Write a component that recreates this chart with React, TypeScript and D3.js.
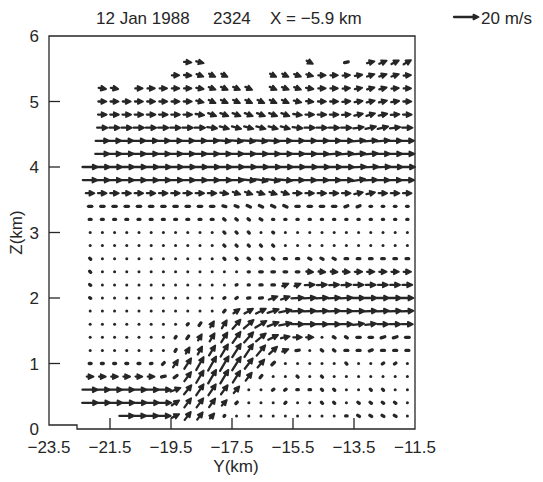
import React from 'react';
import * as d3 from 'd3';

const _ = null;

// heights of the grid rows (km), top to bottom
const levels = [5.6, 5.4, 5.2, 5.0, 4.8, 4.6, 4.4, 4.2, 4.0, 3.8, 3.6, 3.4, 3.2, 3.0,
  2.8, 2.6, 2.4, 2.2, 2.0, 1.8, 1.6, 1.4, 1.2, 1.0, 0.8, 0.6, 0.4, 0.2];

// Y positions of the grid columns (km)
const columns = [-22.15, -21.75, -21.35, -20.95, -20.55, -20.15, -19.75, -19.35, -18.95,
  -18.55, -18.15, -17.75, -17.35, -16.95, -16.55, -16.15, -15.75, -15.35, -14.95,
  -14.55, -14.15, -13.75, -13.35, -12.95, -12.55, -12.15, -11.75];

// horizontal wind component (m/s), one row per level
const uRows = [
  [_, _, _, _, _, _, _, _, 6, 6, _, _, _, _, _, _, _, _, 5, _, _, 5, _, 6, 6, 6, 6],
  [_, _, _, _, _, _, _, 6, 6, 5.5, 5, 5, _, _, _, 5, 5, 5.5, 5.5, 6, 6, 6, 6, 6, 6, 6, 6],
  [_, 6, 6, _, 6, 6, 6, 6, 6, 6, 5.5, 5.5, 5.5, 5.5, _, 5.5, 5.5, 5.5, 6, 6, 6, 6, 6, 6, 6, 6, 6],
  [_, 6.5, 6.5, 6.5, 6.5, 6.5, 6.5, 6.5, 6.5, 6, 5.5, 5.5, 5.5, 5.5, 5.5, 5.5, 5.5, 6, 6, 6.5, 6.5, 6.5, 6.5, 6.5, 6.5, 6.5, 6.5],
  [_, 7, 7, 7, 7, 7, 7, 7, 7, 7, 6.5, 6.5, 6.5, 6.5, 6.5, 6.5, 6.5, 7, 7, 7, 7, 7, 7, 7, 7, 7, 7],
  [_, 8.5, 8.5, 8.5, 8.5, 8.5, 8.5, 8.5, 8.5, 8.5, 8, 7.5, 7.5, 7.5, 7.5, 7.5, 7.5, 8, 8.5, 8.5, 8.5, 8.5, 8.5, 8.5, 8.5, 8.5, 8.5],
  [_, 11, 11, 11, 11, 11, 11, 11, 11, 11, 11, 10.5, 10.5, 10.5, 10.5, 10.5, 11, 11, 11, 11, 11, 11, 11, 11, 11, 11, 11],
  [_, 11.5, 11.5, 11.5, 11.5, 11.5, 11.5, 11.5, 11.5, 11.5, 11.5, 11.5, 11.5, 11.5, 11.5, 11.5, 11.5, 11.5, 11.5, 11.5, 11.5, 11.5, 11.5, 11.5, 11.5, 11.5, 11.5],
  [12.5, 12.5, 12.5, 12.5, 12.5, 12.5, 12.5, 12.5, 12.5, 12.5, 12.5, 12.5, 12.5, 12.5, 12.5, 12.5, 12.5, 12.5, 12.5, 12.5, 12.5, 12.5, 12.5, 12.5, 12.5, 12.5, 12.5],
  [12, 12, 12, 12, 12, 12, 12, 12, 12, 12, 12, 12, 12, 11, 11, 11, 11, 11, 11, 11, 11, 11, 11, 11, 11, 11, 11],
  [7, 7, 7, 7, 7, 7, 7, 7, 7, 7, 7, 6.5, 6, 6, 6, 6, 6, 7, 7, 7, 7, 7, 7, 7, 7, 7, 7],
  [4.5, 4.5, 4.5, 4.5, 4.5, 4.5, 4.5, 4.5, 4.5, 4.5, 4.5, 4, 4, 4.5, 4.5, 4.5, 4.5, 4.5, 4.5, 4.5, 4.5, 4, 4, 2, 2, 2, 2],
  [2.5, 2.5, 2.5, 2.5, 2.5, 2.5, 2.5, 2.5, 2.5, 2.5, 2.5, 2, 2, 2, 2.5, 1.5, 1.5, 1.5, 1.5, 1.5, 1.5, 1.5, 1.5, 1.5, 1.5, 1.5, 1.5],
  [1, 1, 1, 1, 1, 1, 1, 1, 1, 1, 1, 1.5, 1.5, 1.5, 1, 1.2, 0.8, 0.8, 0.8, 0.8, 0.8, 0.8, 0.8, 0.8, 0.8, 0.8, 0.8],
  [0.5, 0.5, 0.5, 0.5, 0.5, 0.5, 0.5, 0.5, 0.5, 0.5, 0.5, 1.5, 1.5, 1.5, 1.5, 1.5, 0.5, 0.5, 0.5, 0.5, 0.5, 0.5, 0.5, 0.5, 0.5, 0.5, 0.5],
  [1.5, 0.8, 0.8, 0.8, 0.8, 0.8, 0.8, 0.8, 0.8, 0.8, 0.8, 1.5, 1.5, 2, 2, 2, 3, 3, 3, 3, 3, 3.5, 3.5, 3.5, 3.5, 3.5, 3.5],
  [1.5, 1, 1, 1, 1, 1, 1, 1, 1, 1, 1, 1, 1, 1.5, 3.5, 3.5, 3.5, 3.5, 5.5, 5.5, 5.5, 5.5, 6, 6, 6, 6, 6],
  [1.5, 1, 1, 1, 1, 1, 1, 1, 1, 1, 1, 1, 1.2, 1.5, 3, 3.5, 5, 5, 8, 8, 8, 8, 8, 8, 8, 8, 8],
  [1.5, 1, 1, 1, 1, 1, 1, 1, 1, 1, 1, 1.5, 2, 3, 4, 7, 7, 10, 10, 10, 10, 10, 10, 10, 10, 10, 10],
  [1, 1, 1, 1, 1, 1, 1, 1, 1, 1, 1, 2, 5, 7, 8, 9, 10, 10, 10, 10, 10, 10, 10, 10, 10, 10, 10],
  [1, 1, 1, 1, 1, 1, 1, 1, 1.5, 2.5, 3, 4, 6.5, 8, 9, 9, 10, 10, 10, 10, 10, 10, 9, 9, 9, 9, 9],
  [1, 1, 1, 1, 1, 1, 1, 1.5, 2.5, 3, 4, 5, 6.5, 7.5, 8, 8, 7, 7, 6, 1, 2.5, 2.5, 4.5, 4.5, 5, 5, 5],
  [1, 1, 1, 1, 1, 1, 1, 1.5, 3, 3.5, 5, 6, 7, 7, 7, 6.5, 5, 4.5, 1, 2, 2, 4, 4, 4, 4, 4, 4],
  [2.5, 2.5, 2.5, 2.5, 2.5, 2, 2.5, 4, 5.5, 6, 6.5, 7, 7, 6.5, 5.5, 3.5, 1, 1, 1, 1, 1, 1.5, 1, 1, 2, 2, 1],
  [5.5, 5.5, 5.5, 5.5, 5.5, 5.5, 5, 4, 5.5, 6, 6.5, 6.5, 6, 5, 2.5, 1, 1, 1.5, 1, 1.5, 1, 1, 1, 1, 1, 1, 1],
  [12.5, 12.5, 12.5, 12.5, 12.5, 12.5, 12.5, 8, 6, 6, 6, 5.5, 4.5, 1, 1, 2, 2, 2, 2, 1.5, 1.5, 1, 1, 1.5, 1.5, 1, 0.8],
  [13, 13, 13, 13, 13, 13, 13, 6, 5.5, 5.5, 5, 4, 2, 1, 1, 1, 1.5, 1, 1, 1.5, 1.5, 1, 2, 2, 2, 2, 1],
  [_, _, _, 12, 12, 12, 12, 6, 5, 4.5, 3.5, 1, 0.5, 0.5, 0.5, 0.5, 0.5, 0.5, 0.5, 1, 1, 2, 2.5, 2.5, 2.5, 2.5, 1],
];

// vertical wind component (m/s), same layout
const wRows = [
  [_, _, _, _, _, _, _, _, -0.5, -1.5, _, _, _, _, _, _, _, _, -2.5, _, _, 1, _, 1.5, 2.5, 3, 3.5],
  [_, _, _, _, _, _, _, 0, -0.5, -2, -2.5, -2.5, _, _, _, -2.5, -2.5, -2, -1.5, 0, 0, 0.5, 1, 2, 2, 2, 0.5],
  [_, -1, -1, _, 0, 0, 0, 0, 0, -1, -2, -2.5, -2.5, -2.5, _, -2.5, -2, -2, -1, 0, 0, 0.5, 1, 1.5, 1.5, 0.5, 0],
  [_, 0, 0, 0, 0, 0, 0, 0, 0, -1.5, -2.5, -2.5, -2.5, -2.5, -2.5, -2.5, -2.5, -1.5, -0.5, 0, 0, 0.5, 1, 1.5, 1.5, 1, 0],
  [_, 0, 0, 0, 0, 0, 0, 0, 0, -1, -2.5, -2.5, -2.5, -2.5, -2.5, -2.5, -2.5, -1, 0, 0, 0, 0.5, 1.5, 2, 1.5, 0.5, 0],
  [_, 0, 0, 0, 0, 0, 0, 0, 0, 0, -1, -2, -2, -2, -2, -2, -2, -1, 0, 0, 0, 0, 1, 2, 2, 1, 0],
  [_, 0, 0, 0, 0, 0, 0, 0, 0, 0, 0, -0.8, -0.8, -0.8, -0.8, -0.8, 0, 0, 0, 0, 0, 0, 0.8, 0.8, 0.8, 0, 0],
  [_, 0, 0, 0, 0, 0, 0, 0, 0, 0, 0, 0, 0, 0, 0, 0, 0, 0, 0, 0, 0.8, 0.8, 0.8, 0.8, 0, 0, 0],
  [0, 0, 0, 0, 0, 0, 0, 0, 0, 0, 0, 0, 0, 0, 0, 0, 0, 0, 0, 0, 0, 0, 0.5, 0.5, 0.5, 0, 0],
  [0, 0, 0, 0, 0, 0, 0, 0, 0, 0, 0, 0, 0, -1, -1.5, -1.5, -1, 0, 0, 0, 0, 0, 1.5, 0.5, 0, 0, 0],
  [0, 0, 0, 0, 0, 0, 0, 0, 0, 0, 0, -1, -2, -2, -2, -2, -2, 0, 0, 0, 0, 0, 1.5, 1.5, 0, 0, 0],
  [0, 0, 0, 0, 0, 0, 0, 0, 0, 0, 0, -1, -1.5, -2, -2, -2, -2, 0, 0, 0, 0, 1.5, 1.5, 0, 0, 0, 0],
  [0, 0, 0, 0, 0, 0, 0, 0, 0, 0, 0, -1.5, -1.5, -1.5, -1.5, 0, 0, 0, 0, 0, 0, 0, 0, 0, 0, 0, 0],
  [0, 0, 0, 0, 0, 0, 0, 0, 0, 0, 0, -1.5, -1.5, -1.5, 0, -1, 0, 0, 0, 0, 0, 0, 0, 0, 0, 0, 0],
  [0, 0, 0, 0, 0, 0, 0, 0, 0, 0, 0, -1.5, -1.5, -1.5, -1.5, -1.5, 0, 0, 0, 0, 0, 0, 0, 0, 0, 0, 0],
  [-1.5, 0, 0, 0, 0, 0, 0, 0, 0, 0, 0, -1.5, -1.5, -1.5, -1.5, -1.5, 0, 0, -1.5, -1.5, -1.5, 0, 0, 0, 0, 0, 0],
  [-1.5, 0, 0, 0, 0, 0, 0, 0, 0, 0, 0, 0, 0, 0, 0, 0, 0, 0, -0.5, -0.5, -0.5, -0.5, 0, 0, 0, 0, 0],
  [-1, 0, 0, 0, 0, 0, 0, 0, 0, 0, 0, 0, 0.5, 0, 0, 0, 2, 2, 0.5, 0.5, 0.5, 0.5, 0, 0, 0, 0, 0],
  [-1, 0, 0, 0, 0, 0, 0, 0, 0, 0, 0, 1, 1.5, 0.5, 0.5, 2.5, 2.5, 0.5, 0.5, 0.5, 0.5, 0.5, 0, 0, 0, 0, 0],
  [0, 0, 0, 0, 0, 0, 0, 0, 0, 0, 0, 2.5, 3.5, 4, 4, 3, 2, 0.5, 0.5, 0.5, 0.5, 0, 0, 0.5, 0.5, 0.5, 0.5],
  [0, 0, 0, 0, 0, 0, 0, 0, 1.5, 3.5, 5, 6.5, 7.5, 7, 5.5, 3.5, 2, 0, 0, 0, 0, 0, 1, 1, 0, 0, 0],
  [0, 0, 0, 0, 0, 0, 0, 2, 3.5, 5, 6.5, 8, 9, 8.5, 6.5, 4, 1.5, 0, 0, 0, -1.5, -1.5, 0, 0, 1.5, 1.5, 0],
  [0, 0, 0, 0, 0, 0, 0, 2.5, 5, 6.5, 8, 10, 11, 10.5, 8.5, 6, 2, 0.5, 0, -1.5, -1.5, 0, 0, 1.5, 0, 0, 0],
  [0, 0, 0, 0, 0, 0.5, 2.5, 6, 8.5, 10.5, 11.5, 12, 11, 8.5, 6.5, 3.5, 0, 0, 0, 0, 0, -1.5, 0, 0, 1.5, 1.5, 0],
  [0, 0, 0, 0, 0, 0, 1, 3, 7.5, 10, 11, 11, 9.5, 6.5, 3, 0, 0, -1.5, 0, -1.5, 0, 0, 0, 0, 0, 0, 0],
  [0, 0, 0, 0, 0, 0, 0, 3, 7.5, 9, 9, 7.5, 5.5, 0.5, 0, 1.5, 1.5, 0, 0, -1.5, -1.5, 0, 0, -1.5, -1.5, 0, 0],
  [0, 0, 0, 0, 0, 0, 0, 4, 7.5, 7.5, 7, 4.5, 2, 0, 0, 0, 1.5, 0, 0, -1.5, -1.5, 0, -1.5, -1.5, -1.5, -1.5, 0],
  [_, _, _, 0, 0, 0, 0, 3, 6.5, 6, 4, 1, 0, 0, 0, 0, 0, 0, 0, 0, 0, 0, -1.5, -1.5, -1.5, -1.5, 0],
];

const yTicks = [-23.5, -21.5, -19.5, -17.5, -15.5, -13.5, -11.5];
const zTicks = [0, 1, 2, 3, 4, 5, 6];
const refSpeed = 20;

const W = 543;
const H = 482;
const ink = '#262626';
const font = '"Liberation Sans", Arial, Helvetica, sans-serif';

const x = d3.scaleLinear().domain([-23.5, -11.5]).range([49, 415]);
const z = d3.scaleLinear().domain([0, 6]).range([429, 36]);
const len = d3.scaleLinear().domain([0, 20]).range([0, 24.5]);

const fmt = (v: number) => (v < 0 ? '\u2212' : '') + Math.abs(v).toFixed(1);

function Arrow({ cx, cy, u, w }: { cx: number; cy: number; u: number; w: number }) {
  const dx = len(u);
  const dy = -len(w);
  const L = Math.hypot(dx, dy);
  if (L < 1.5) return <circle cx={cx} cy={cy} r={1.5} fill={ink} />;
  const ux = dx / L;
  const uy = dy / L;
  const tipX = cx + dx / 2;
  const tipY = cy + dy / 2;
  if (L < 6.5) {
    // short vectors print as small elongated blobs
    const r = 0.3 * L;
    return (
      <line x1={cx - ux * r} y1={cy - uy * r} x2={cx + ux * r} y2={cy + uy * r}
        stroke={ink} strokeWidth={3.3} strokeLinecap="round" />
    );
  }
  const hl = 5;
  const hw = 2.4;
  const bx = tipX - ux * hl;
  const by = tipY - uy * hl;
  const head = `M${tipX},${tipY}L${bx - uy * hw},${by + ux * hw}L${bx + uy * hw},${by - ux * hw}Z`;
  return (
    <g>
      <line x1={cx - dx / 2} y1={cy - dy / 2} x2={bx + ux} y2={by + uy}
        stroke={ink} strokeWidth={2.3} strokeLinecap="round" />
      <path d={head} fill={ink} stroke={ink} strokeWidth={1.8} strokeLinejoin="round" />
    </g>
  );
}

export default function App() {
  const arrows: JSX.Element[] = [];
  levels.forEach((lev, i) => {
    columns.forEach((col, k) => {
      const u = uRows[i][k];
      const w = wRows[i][k];
      if (u === null || w === null) return;
      arrows.push(<Arrow key={`${i}-${k}`} cx={x(col)} cy={z(lev)} u={u} w={w} />);
    });
  });

  const x0 = x(-23.5), x1 = x(-11.5), zb = z(0), zt = z(6);
  const frame = `M${x0},${zt}H${x1}V${zb}H${x0 + 28}V${zb - 4}H${x0}Z`;

  return (
    <svg width={W} height={H} style={{ position: 'absolute', left: 0, top: 0, background: '#fff' }}
      fontFamily={font}>
      <rect width={W} height={H} fill="#fff" />
      <text x={96} y={24} fontSize={17} fill={ink}>12 Jan 1988</text>
      <text x={213} y={24} fontSize={17} fill={ink}>2324</text>
      <text x={270} y={24} fontSize={17} fill={ink}>X = {'\u2212'}5.9 km</text>
      <Arrow cx={454 + len(refSpeed) / 2} cy={17} u={refSpeed} w={0} />
      <text x={481} y={24} fontSize={17} fill={ink}>20 m/s</text>

      <path d={frame} fill="none" stroke={ink} strokeWidth={1.3} />
      {zTicks.filter((t) => t > 0 && t < 6).map((t) => (
        <line key={t} x1={x0} x2={x0 + 11} y1={z(t)} y2={z(t)} stroke={ink} strokeWidth={1.3} />
      ))}
      {yTicks.slice(1, -1).map((t) => (
        <line key={t} x1={x(t)} x2={x(t)} y1={zb} y2={zb - 11} stroke={ink} strokeWidth={1.3} />
      ))}
      {zTicks.map((t) => (
        <text key={t} x={39} y={z(t) + 6} fontSize={17} textAnchor="end" fill={ink}>{t}</text>
      ))}
      {yTicks.map((t) => (
        <text key={t} x={x(t)} y={453} fontSize={17} textAnchor="middle" fill={ink}>{fmt(t)}</text>
      ))}
      <text x={236} y={472} fontSize={17} textAnchor="middle" fill={ink}>Y(km)</text>
      <text transform={`translate(22,${z(3)}) rotate(-90)`} fontSize={17} textAnchor="middle" fill={ink}>Z(km)</text>

      {arrows}
    </svg>
  );
}
